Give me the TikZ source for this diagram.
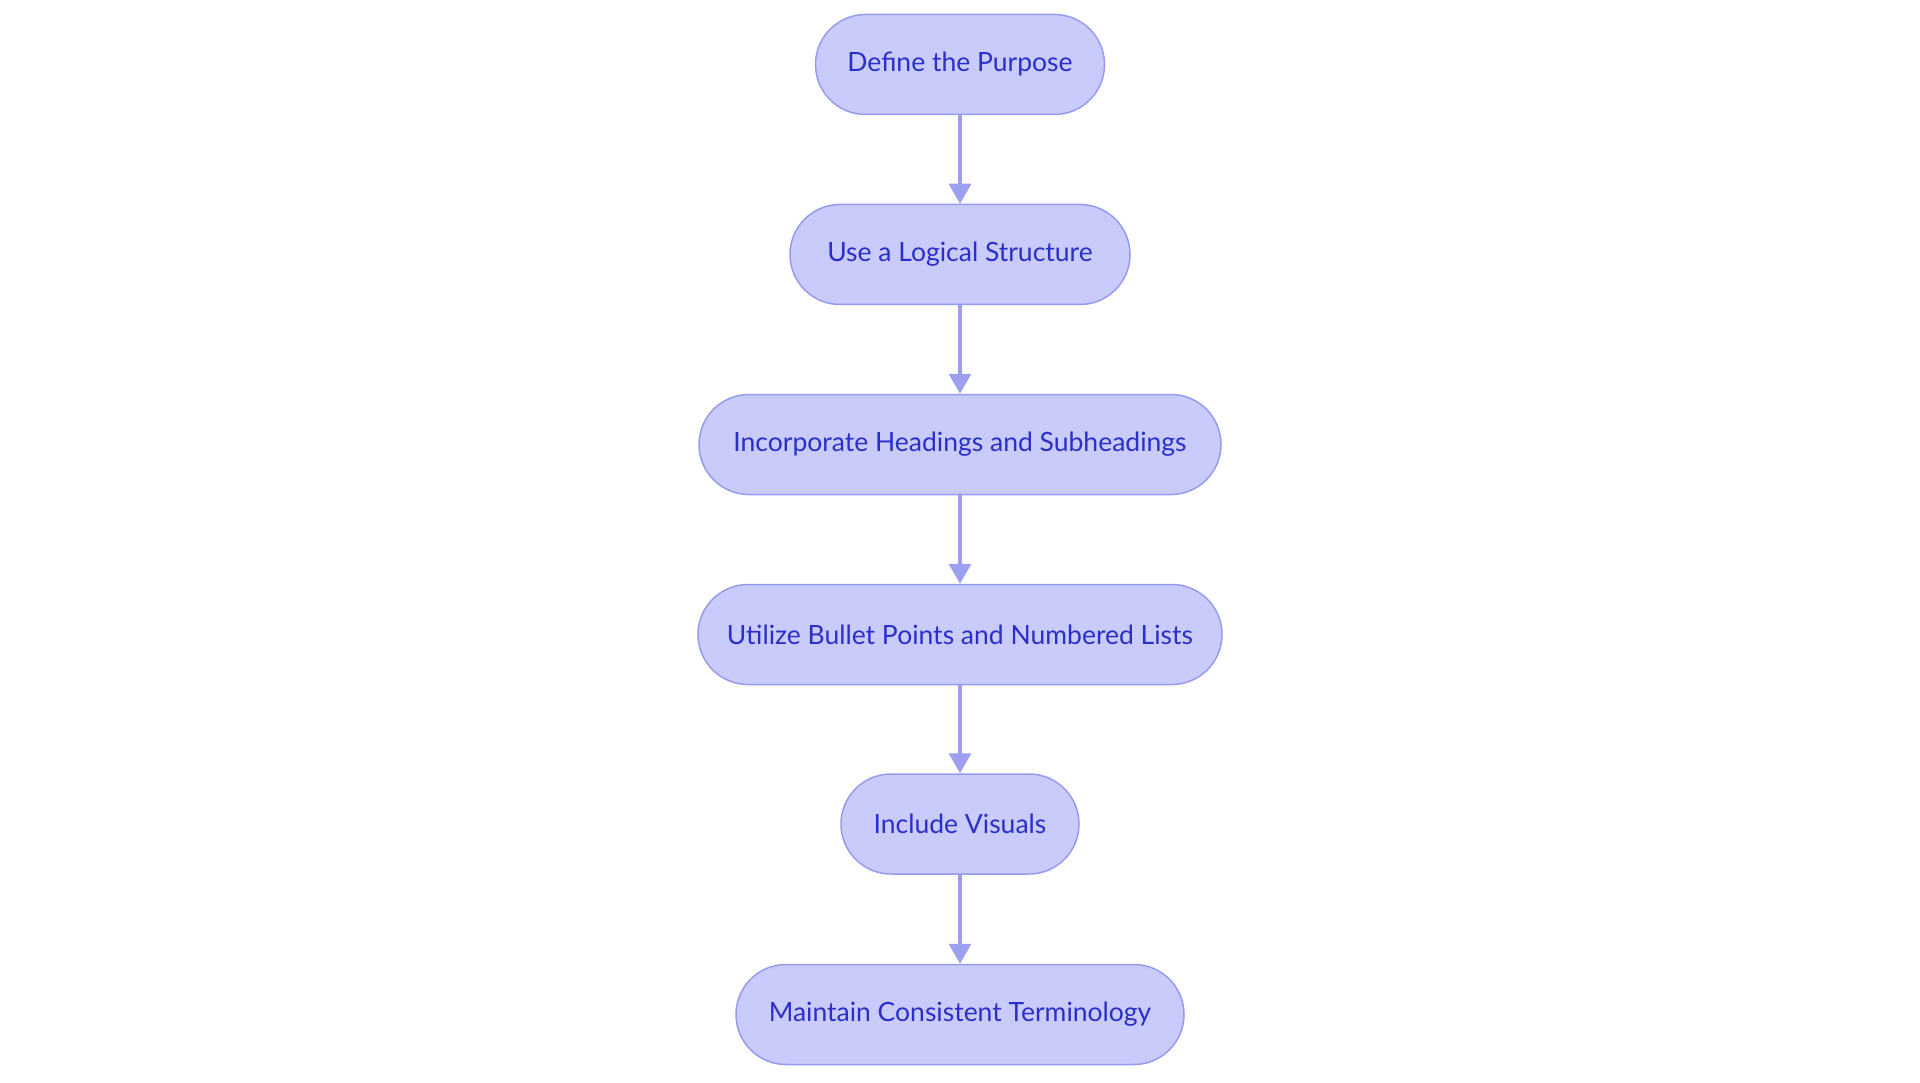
\documentclass[tikz,border=0pt]{standalone}
\usepackage{fontspec}
\setmainfont{Lato}
\usetikzlibrary{arrows.meta}
\definecolor{nodefill}{HTML}{C9CBFB}
\definecolor{nodeline}{HTML}{979BEF}
\definecolor{nodetext}{HTML}{2B2FC9}
\definecolor{arrowcol}{HTML}{9DA0F0}
\tikzset{
  stepbox/.style={draw=nodeline, fill=nodefill, line width=1.5pt, rounded corners=50pt,
    minimum height=100pt, text=nodetext, font=\fontsize{26.5}{31}\selectfont, inner sep=0pt},
  flow/.style={draw=arrowcol, line width=3.5pt, -{Triangle[width=22pt,length=20pt]}}
}
\begin{document}
\begin{tikzpicture}[x=1pt,y=-1pt]
\useasboundingbox (0,0) rectangle (1920,1083);
\node[stepbox, minimum width=289pt] (a) at (960,64.5) {Define the Purpose};
\node[stepbox, minimum width=340pt] (b) at (960,254.5) {Use a Logical Structure};
\node[stepbox, minimum width=522pt] (c) at (960,444.5) {Incorporate Headings and Subheadings};
\node[stepbox, minimum width=524pt] (d) at (960,634.5) {Utilize Bullet Points and Numbered Lists};
\node[stepbox, minimum width=238pt] (e) at (960,824) {Include Visuals};
\node[stepbox, minimum width=448pt] (f) at (960,1014.5) {Maintain Consistent Terminology};
\draw[flow] (a) -- (b);
\draw[flow] (b) -- (c);
\draw[flow] (c) -- (d);
\draw[flow] (d) -- (e);
\draw[flow] (e) -- (f);
\end{tikzpicture}
\end{document}
